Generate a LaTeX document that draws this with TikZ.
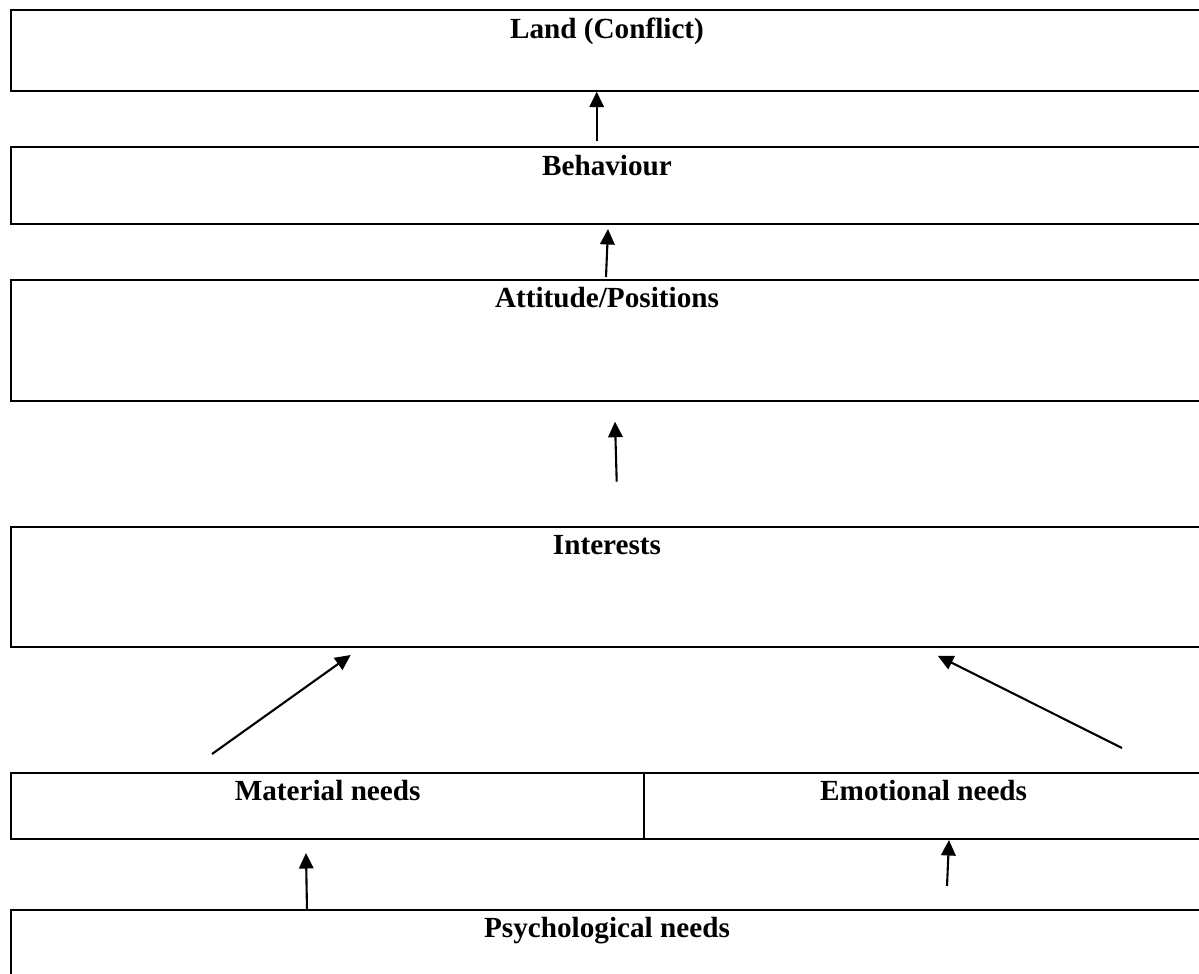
\documentclass[tikz,border=0pt]{standalone}
\usepackage{fontspec}
\setmainfont{Liberation Serif}
\usetikzlibrary{arrows.meta,calc}
\tikzset{
  stage/.style={draw=black, line width=1.8pt, rectangle, inner sep=0pt, outer sep=0pt},
  lbl/.style={anchor=base, inner sep=0pt, font=\bfseries\fontsize{29.2}{35}\selectfont},
  arr/.style={line width=2.1pt, -{Triangle[length=15.5pt,width=14.5pt]}}
}
\begin{document}
\begin{tikzpicture}[x=1pt,y=-1pt]
\useasboundingbox (0,0) rectangle (1199,974);
\fill[white] (0,0) rectangle (1199,974);
\clip (0,0) rectangle (1199,974);
% boxes
\node[stage, minimum width=1192pt, minimum height=80.7pt] (land) at (607,50.35) {};
\node[stage, minimum width=1192pt, minimum height=77.3pt] (beh) at (607,185.35) {};
\node[stage, minimum width=1192pt, minimum height=120.7pt] (att) at (607,340.35) {};
\node[stage, minimum width=1192pt, minimum height=120.6pt] (int) at (607,587) {};
\node[stage, minimum width=633.3pt, minimum height=66.3pt] (mat) at (327.65,805.85) {};
\node[stage, minimum width=558.7pt, minimum height=66.3pt] (emo) at (923.65,805.85) {};
\node[stage, minimum width=1192pt, minimum height=120pt] (psy) at (607,970) {};
% labels
\node[lbl] (landt) at ($(land.north)+(0,29)$) {Land (Conflict)};
\node[lbl] (beht) at ($(beh.north)+(0,28.5)$) {Behaviour};
\node[lbl] (attt) at ($(att.north)+(0,27.5)$) {Attitude/Positions};
\node[lbl] (intt) at ($(int.north)+(0,27.5)$) {Interests};
\node[lbl] (matt) at ($(mat.north)+(0,28)$) {Material needs};
\node[lbl] (emot) at ($(emo.north)+(0,28)$) {Emotional needs};
\node[lbl] (psyt) at ($(psy.north)+(0,27)$) {Psychological needs};
% arrow end points
\coordinate (a1s) at ($(beh.north)+(-10.3,-5.7)$);
\coordinate (a1e) at ($(land.south)+(-10.3,1)$);
\coordinate (a2s) at ($(att.north)+(-1,-3)$);
\coordinate (a2e) at ($(beh.south)+(1,5)$);
\coordinate (a3s) at ($(int.north)+(9.7,-45)$);
\coordinate (a3e) at ($(att.south)+(8,21)$);
\coordinate (a4s) at ($(mat.north)+(-115.65,-18.7)$);
\coordinate (a4e) at ($(int.south west)+(339.7,7.7)$);
\coordinate (a5s) at ($(emo.north)+(198.35,-24.7)$);
\coordinate (a5e) at ($(int.south west)+(926.7,8.4)$);
\coordinate (a6s) at ($(psy.north)+(-300,0.7)$);
\coordinate (a6e) at ($(mat.south)+(-21.65,14)$);
\coordinate (a7s) at ($(psy.north)+(340,-24)$);
\coordinate (a7e) at ($(emo.south)+(25.35,1)$);
% arrows
\draw[arr] (a1s) -- (a1e);
\draw[arr] (a2s) -- (a2e);
\draw[arr] (a3s) -- (a3e);
\draw[arr] (a4s) -- (a4e);
\draw[arr] (a5s) -- (a5e);
\draw[arr] (a6s) -- (a6e);
\draw[arr] (a7s) -- (a7e);
\end{tikzpicture}
\end{document}
